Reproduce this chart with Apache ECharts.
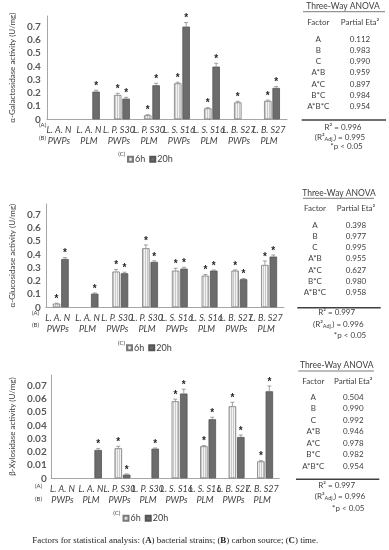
<!DOCTYPE html>
<html><head><meta charset="utf-8">
<script src="https://cdn.jsdelivr.net/npm/echarts@6/dist/echarts.min.js"></script>
<style>html,body{margin:0;padding:0;background:#fff}#c{width:389px;height:550px}</style>
</head><body><div id="c"></div>
<script>
// ---------- data ----------
const strains = ['L. A. N','L. A. N','L. P. S30','L. P. S30','L. S. S16','L. S. S16','L. B. S27','L. B. S27'];
const sources = ['PWPs','PLM','PWPs','PLM','PWPs','PLM','PWPs','PLM'];
const seriesNames = ['6h','20h'];

const galact6h  = [0, 0, 0.184, 0.030, 0.272, 0.083, 0.128, 0.139];
const galact20h = [0, 0.209, 0.156, 0.257, 0.700, 0.398, 0, 0.237];
const galactErr6h  = [0, 0, 0.012, 0.005, 0.008, 0.005, 0.008, 0.006];
const galactErr20h = [0, 0.010, 0.010, 0.015, 0.030, 0.025, 0, 0.010];

const gluc6h  = [0.028, 0, 0.270, 0.446, 0.277, 0.239, 0.277, 0.320];
const gluc20h = [0.365, 0.103, 0.257, 0.343, 0.292, 0.277, 0.212, 0.383];
const glucErr6h  = [0.003, 0, 0.015, 0.025, 0.018, 0.008, 0.005, 0.030];
const glucErr20h = [0.010, 0.005, 0.008, 0.008, 0.010, 0.005, 0.005, 0.012];

const xyl6h  = [0, 0, 0.0227, 0, 0.0582, 0.0242, 0.0544, 0.0128];
const xyl20h = [0, 0.0214, 0.0028, 0.0224, 0.0640, 0.0446, 0.0312, 0.0657];
const xylErr6h  = [0, 0, 0.0015, 0, 0.0015, 0.0005, 0.0030, 0.0005];
const xylErr20h = [0, 0.0010, 0.0005, 0.0005, 0.0033, 0.0015, 0.0015, 0.0040];

const yTitles = ['α-Galactosidase activity (U/mg)','α-Glucosidase activity (U/mg)','β-Xylosidase activity (U/mg)'];
const yMaxLabel = [0.7, 0.7, 0.07];
const yInterval = [0.1, 0.1, 0.01];

const factors = ['A','B','C','A*B','A*C','B*C','A*B*C'];
const eta1 = ['0.112','0.983','0.990','0.959','0.897','0.984','0.954'];
const eta2 = ['0.398','0.977','0.995','0.955','0.627','0.980','0.958'];
const eta3 = ['0.504','0.990','0.992','0.946','0.978','0.982','0.954'];
const r2   = ['0.996','0.997','0.997'];
const r2adj= ['0.995','0.996','0.996'];
const pText = '*p < 0.05';
const tableTitle = 'Three-Way ANOVA';
const caption = 'Factors for statistical analysis: ({b|A}) bacterial strains; ({b|B}) carbon source; ({b|C}) time.';

// ---------- layout / style ----------
const FONT = 'Lato';
const TXT = '#404040';
const panels = [
  {grid:{left:43, top:16, width:244, height:103.3}, yMax:0.78, shift:4.3, labMargin:6, nameGap:29,
   legend:{left:127, y:159.3}, C:[118.3,154.3], A:[39,125.7],
   tab:{title:[343,6], ul:[303,385,11.7], head:22.7, fx:318.3, vx:360, row0:39, step:11.3, tl:[301.7,386,120], r2:[343,127.3], adj:[340,137.3], p:[346.5,146.7]}},
  {grid:{left:42, top:204, width:242, height:103.3}, yMax:0.78, shift:7.4, labMargin:5, nameGap:28,
   legend:{left:126, y:347.7}, C:[118,343.3], A:[32,313.3],
   tab:{title:[339,193.3], ul:[303,374,198.3], head:208.3, fx:315, vx:356, row0:225, step:11.3, tl:[297.3,380.7,307.7], r2:[336.7,312.3], adj:[338.3,324], p:[350,335.7]}},
  {grid:{left:40.4, top:375, width:239, height:103.3}, yMax:0.078, shift:3.3, labMargin:4.5, nameGap:33,
   legend:{left:122.5, y:518.3}, C:[113.3,514], A:[35,486.7],
   tab:{title:[336.7,365.7], ul:[298.3,374,371], head:381, fx:313.3, vx:353.3, row0:397.3, step:11.45, tl:[296,379.3,479.3], r2:[336.7,485], adj:[340,496.7], p:[348.3,508.3]}}
];
const panelData = [
  [galact6h, galact20h, galactErr6h, galactErr20h, eta1],
  [gluc6h, gluc20h, glucErr6h, glucErr20h, eta2],
  [xyl6h, xyl20h, xylErr6h, xylErr20h, eta3]
];

function makePattern(){
  const c = document.createElement('canvas'); c.width = 2; c.height = 4;
  const g = c.getContext('2d');
  g.fillStyle = '#f3f3f3'; g.fillRect(0,0,2,4);
  g.fillStyle = '#c9c9c9'; g.fillRect(1,0,1,4);
  return c;
}
const pattern = {image: makePattern(), repeat: 'repeat'};
const barStyles = [
  {color: pattern, borderColor:'#7a7a7a', borderWidth:0.8},
  {color: '#6c6c6c', borderColor:'#555555', borderWidth:0.8}
];
const halfSpacing = 4.2;

function errRender(off){
  return function(params, api){
    const x = api.value(0), v = api.value(1), e = api.value(2);
    if (!v) return null;
    const p = api.coord([x, v]);
    const pt = api.coord([x, v + e]);
    const cx = p[0] + off;
    const ch = [];
    if (e > 0) {
      ch.push({type:'line', shape:{x1:cx,y1:p[1],x2:cx,y2:pt[1]}, style:{stroke:'#8a8a8a', lineWidth:0.8}});
      ch.push({type:'line', shape:{x1:cx-2,y1:pt[1],x2:cx+2,y2:pt[1]}, style:{stroke:'#8a8a8a', lineWidth:0.8}});
    }
    ch.push({type:'text', x:cx, y:pt[1]-4, style:{text:'*', fill:'#262626', font:'bold 10px "Liberation Sans"', align:'center', verticalAlign:'middle'}});
    return {type:'group', children: ch};
  };
}

const categories = strains.map((s,i) => s + '\n' + sources[i]);
const option = {animation:false, grid:[], xAxis:[], yAxis:[], series:[], legend:[], graphic:[]};

panels.forEach((P, k) => {
  const D = panelData[k];
  option.grid.push(Object.assign({}, P.grid));
  option.xAxis.push({type:'category', gridIndex:k, data:categories,
    axisLine:{lineStyle:{color:'#a6a6a6', width:1}}, axisTick:{show:false},
    axisLabel:{interval:0, fontFamily:FONT, fontStyle:'italic', fontSize:9, color:TXT, lineHeight:11, margin:5, padding:[0,6,0,0]}});
  const lim = yMaxLabel[k];
  option.yAxis.push({type:'value', gridIndex:k, min:0, max:P.yMax, interval:yInterval[k],
    splitLine:{show:false}, axisTick:{show:false},
    axisLine:{show:true, lineStyle:{color:'#a6a6a6', width:1}},
    axisLabel:{fontFamily:FONT, fontWeight:'bold', fontSize:10, color:'#595959', margin:P.labMargin,
      padding:[0,0,2*P.shift,0],
      formatter: v => v > lim*1.001 ? '' : String(Number(v.toFixed(4)))},
    name: yTitles[k], nameLocation:'middle', nameRotate:90, nameGap:P.nameGap,
    nameTextStyle:{fontFamily:FONT, fontSize:8, color:TXT}});
  [0,1].forEach(j => {
    option.series.push({type:'bar', name:seriesNames[j], xAxisIndex:k, yAxisIndex:k,
      data:D[j].map(v => v === 0 ? null : v), barWidth:7.5, barGap:'12%', itemStyle:barStyles[j], emphasis:{disabled:true}});
  });
  [0,1].forEach(j => {
    option.series.push({type:'custom', name:'err'+j, xAxisIndex:k, yAxisIndex:k, clip:false, silent:true,
      renderItem: errRender(j===0 ? -halfSpacing : halfSpacing),
      data: D[j].map((v,i) => [i, v, D[2+j][i]]), z:5});
  });
  option.legend.push({data:seriesNames, left:P.legend.left, top:P.legend.y-4.5, padding:0,
    itemWidth:5, itemHeight:5, itemGap:4, icon:'rect', selectedMode:false,
    textStyle:{fontFamily:FONT, fontSize:9, color:TXT, lineHeight:9, padding:[0,0,0,-3]}});
  // (A) (B) (C)
  const small = {fontFamily:FONT, fontSize:6, fill:TXT};
  option.graphic.push({type:'text', left:P.C[0], top:P.C[1]-3.5, style:Object.assign({text:'(C)'}, small)});
  option.graphic.push({type:'text', left:P.A[0], top:P.A[1]-3.5, style:Object.assign({text:'(A)'}, small)});
  option.graphic.push({type:'text', left:P.A[0], top:P.A[1]+12.5-3.5, style:Object.assign({text:'(B)'}, small)});
  // ANOVA table
  const T = P.tab;
  const txt = (x,y,text,extra) => ({type:'text', x:x, y:y, style:Object.assign({text:text, font:'8px '+FONT, fill:TXT, align:'center', verticalAlign:'middle'}, extra||{})});
  option.graphic.push(txt(T.title[0], T.title[1], tableTitle, {font:'8.5px '+FONT}));
  option.graphic.push({type:'line', shape:{x1:T.ul[0], y1:T.ul[2], x2:T.ul[1], y2:T.ul[2]}, style:{stroke:'#595959', lineWidth:0.8}});
  option.graphic.push(txt(T.fx, T.head, 'Factor'));
  option.graphic.push(txt(T.vx, T.head, 'Partial Eta²'));
  factors.forEach((f,i) => {
    option.graphic.push(txt(T.fx, T.row0 + i*T.step, f));
    option.graphic.push(txt(T.vx, T.row0 + i*T.step, D[4][i]));
  });
  option.graphic.push({type:'line', shape:{x1:T.tl[0], y1:T.tl[2], x2:T.tl[1], y2:T.tl[2]}, style:{stroke:'#404040', lineWidth:1.6}});
  option.graphic.push(txt(T.r2[0], T.r2[1], 'R² = ' + r2[k]));
  option.graphic.push({type:'text', x:T.adj[0], y:T.adj[1], style:{
    text:'{n|(R²}{s|Adj.}{n|) = ' + r2adj[k] + '}', align:'center', verticalAlign:'middle', fill:TXT,
    rich:{n:{fontFamily:FONT, fontSize:8, fill:TXT, lineHeight:10}, s:{fontFamily:FONT, fontSize:5.5, fill:TXT, lineHeight:6, verticalAlign:'bottom'}}}});
  option.graphic.push(txt(T.p[0], T.p[1], pText));
});

option.graphic.push({type:'text', x:32.3, y:541, style:{text:caption, verticalAlign:'middle', align:'left',
  font:'8.9px "Liberation Serif"', fill:'#222',
  rich:{b:{fontFamily:'Liberation Serif', fontWeight:'bold', fontSize:8.9, fill:'#222'}}}});

const chart = echarts.init(document.getElementById('c'), null, {renderer:'canvas'});
chart.setOption(option);
</script></body></html>
